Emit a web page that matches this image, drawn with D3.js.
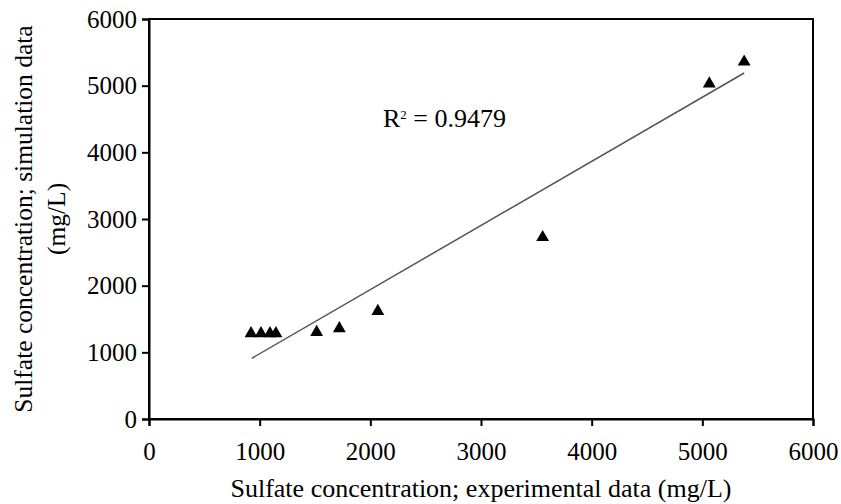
<!DOCTYPE html>
<html>
<head>
<meta charset="utf-8">
<script src="https://cdn.jsdelivr.net/npm/d3@7"></script>
<style>
  body { margin: 0; background: #fff; }
  svg text { font-family: "Liberation Serif", "Times New Roman", serif; fill: #000; }
</style>
</head>
<body>
<div id="chart"></div>
<script>
// experimental vs simulated sulfate (mg/L)
const expData = [922, 1012, 1093, 1147, 1515, 1720, 2068, 3557, 5063, 5378];
const simData = [1310, 1310, 1310, 1310, 1330, 1385, 1645, 2752, 5058, 5385];
// linear trendline end points
const trendX = [928, 5378];
const trendY = [910, 5190];
const r2Label = "0.9479";
const xTicks = [0, 1000, 2000, 3000, 4000, 5000, 6000];
const yTicks = [0, 1000, 2000, 3000, 4000, 5000, 6000];

const svgWidth = 841, svgHeight = 504;
const margin = {left: 149, right: 28, top: 19, bottom: 85};
const chartWidth = svgWidth - margin.left - margin.right;
const chartHeight = svgHeight - margin.top - margin.bottom;
const serif = '"Liberation Serif", "Times New Roman", serif';

var svg = d3.select("#chart")
    .append("svg")
    .attr("width", svgWidth)
    .attr("height", svgHeight);

var g = svg.append("g")
    .attr("transform", `translate(${margin.left}, ${margin.top})`);

const x = d3.scaleLinear().domain([0, 6000]).range([0, chartWidth]);
const y = d3.scaleLinear().domain([0, 6000]).range([chartHeight, 0]);

// plot frame
g.append("rect")
    .attr("width", chartWidth)
    .attr("height", chartHeight)
    .attr("fill", "none")
    .attr("stroke", "black")
    .attr("stroke-width", 2);

var xAxis = g.append("g")
    .attr("transform", `translate(0, ${chartHeight})`)
    .call(d3.axisBottom(x).tickValues(xTicks).tickFormat(d3.format("d")).tickSize(7));
var yAxis = g.append("g")
    .call(d3.axisLeft(y).tickValues(yTicks).tickFormat(d3.format("d")).tickSize(7).tickPadding(5));

[xAxis, yAxis].forEach(a => {
    a.attr("font-family", serif).attr("font-size", 25);
    a.select(".domain").attr("stroke-width", 2);
    a.selectAll(".tick line").attr("stroke-width", 2);
    a.selectAll(".tick text")
        .style("font-family", serif)
        .style("font-size", "25px");
});
xAxis.selectAll(".tick text").attr("y", 23);

// trendline
g.append("line")
    .attr("x1", x(trendX[0]))
    .attr("y1", y(trendY[0]))
    .attr("x2", x(trendX[1]))
    .attr("y2", y(trendY[1]))
    .attr("stroke", "#555")
    .attr("stroke-width", 1.5);

// triangles (shifted so the box centre sits on the value)
const triSize = 72;
const triR = Math.sqrt(triSize / (3 * Math.sqrt(3)));
const tri = d3.symbol().type(d3.symbolTriangle).size(triSize);
g.selectAll(".pt")
    .data(expData.map((d, i) => [d, simData[i]]))
    .join("path")
    .attr("class", "pt")
    .attr("d", tri)
    .attr("transform", d => `translate(${x(d[0])}, ${y(d[1]) + triR / 2})`)
    .attr("fill", "black");

// R² label
var r2 = g.append("text")
    .attr("x", 234)
    .attr("y", 108)
    .style("font-size", "26px");
r2.append("tspan").text("R");
r2.append("tspan").text("2").attr("dy", -8).style("font-size", "13px");
r2.append("tspan").text(" = " + r2Label).attr("dy", 8);

// axis titles
svg.append("text")
    .attr("x", margin.left + chartWidth / 2)
    .attr("y", 497)
    .attr("text-anchor", "middle")
    .style("font-size", "26px")
    .text("Sulfate concentration; experimental data (mg/L)");

var yTitle = svg.append("text")
    .attr("transform", `translate(32, ${margin.top + chartHeight / 2}) rotate(-90)`)
    .attr("text-anchor", "middle")
    .style("font-size", "25.5px");
yTitle.append("tspan").attr("x", 0).attr("y", 0).text("Sulfate concentration; simulation data");
yTitle.append("tspan").attr("x", 0).attr("y", 33).text("(mg/L)");
</script>
</body>
</html>
